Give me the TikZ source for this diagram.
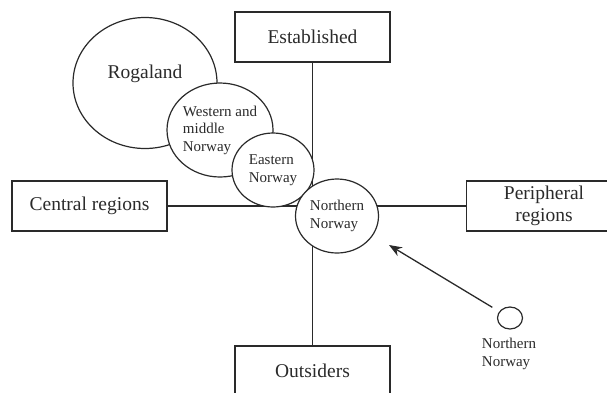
\documentclass[tikz,border=0pt]{standalone}
\usepackage{fontspec}
\setmainfont{Liberation Serif}
\usetikzlibrary{shapes.geometric,arrows.meta}
\definecolor{ink}{HTML}{2a2a2a}
\tikzset{
  box/.style={draw=ink, line width=1.2pt, minimum width=155pt, minimum height=50pt, inner sep=0pt, text=ink, font=\fontsize{19.5}{22}\selectfont, align=center},
  region/.style={ellipse, draw=ink, line width=1.2pt, fill=white, inner sep=0pt},
  small/.style={text=ink, font=\fontsize{15}{17.5}\selectfont, align=left, inner sep=0pt},
  big/.style={text=ink, font=\fontsize{19.5}{22}\selectfont, inner sep=0pt},
  axis/.style={draw=ink, line width=1.2pt},
}
\begin{document}
\begin{tikzpicture}[x=1pt,y=-1pt]
\useasboundingbox (0,0) rectangle (607,392);
% boxes
\node[box] (est) at (312.5,37) {Established};
\node[box] (cen) at (89.5,206) {Central regions};
\node[box] (per) at (544,206) {Peripheral\\regions};
\node[box] (out) at (312.5,371) {Outsiders};
% axes
\draw[axis] (est.south) -- (out.north);
\draw[axis] (cen.east) -- (per.west);
% region circles
\node[region, minimum width=144pt, minimum height=131pt] (rog) at (145,83) {};
\node[big] (rogt) at (145,74) {Rogaland};
\node[region, small, minimum width=106pt, minimum height=94pt] (wes) at (220,130) {Western and\\middle\\Norway};
\node[region, small, minimum width=82pt, minimum height=74pt] (eas) at (273,170) {Eastern\\Norway};
\node[region, small, minimum width=83pt, minimum height=74pt] (nor) at (337,216) {Northern\\Norway};
% small circle and arrow
\node[region, minimum width=25pt, minimum height=22pt] (sn) at (510,318) {};
\node[small, anchor=north] (snt) at (509,338) {Northern\\Norway};
\coordinate (tip) at (389,245);
\draw[draw=ink, line width=1.3pt, shorten <=8pt, -{Stealth[length=13pt,width=10pt]}] (sn) -- (tip);
\end{tikzpicture}
\end{document}
